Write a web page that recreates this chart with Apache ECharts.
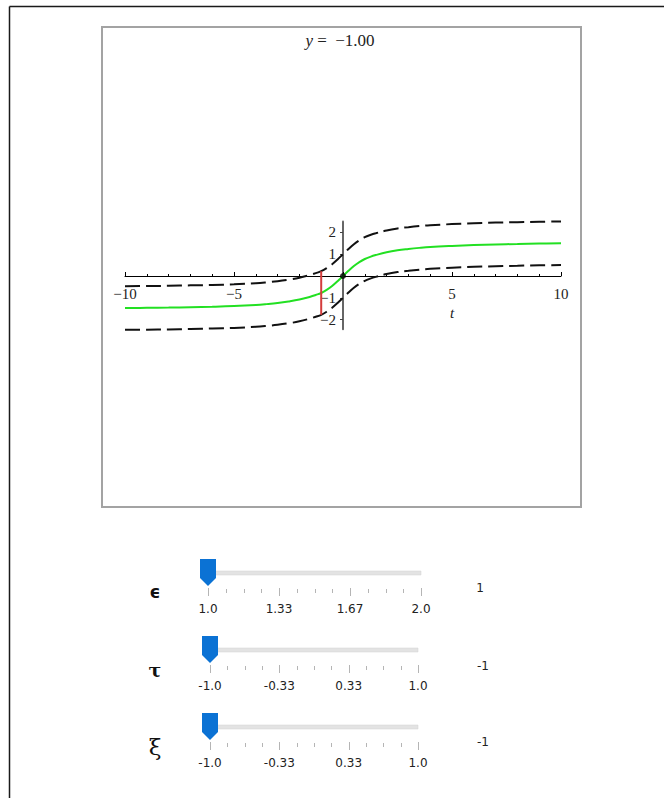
<!DOCTYPE html>
<html>
<head>
<meta charset="utf-8">
<script src="https://cdn.jsdelivr.net/npm/echarts@6/dist/echarts.min.js"></script>
<style>
  html, body { margin: 0; padding: 0; background: #fff; }
  #chart { width: 664px; height: 798px; }
</style>
</head>
<body>
<div id="chart"></div>
<script>
// Sample times along the t axis
const tValues = [-10, -9, -8, -7, -6, -5, -4, -3.5, -3, -2.5, -2, -1.5, -1.25, -1, -0.75, -0.5, -0.25,
  0, 0.25, 0.5, 0.75, 1, 1.25, 1.5, 2, 2.5, 3, 3.5, 4, 5, 6, 7, 8, 9, 10];
// Solution curve (green)
const solution = [-1.47, -1.46, -1.45, -1.43, -1.41, -1.38, -1.33, -1.29, -1.24, -1.17, -1.08, -0.95, -0.87, -0.78, -0.64, -0.46, -0.24,
  0, 0.24, 0.46, 0.64, 0.78, 0.88, 0.96, 1.09, 1.18, 1.24, 1.29, 1.33, 1.38, 1.42, 1.45, 1.47, 1.49, 1.50];
// Upper dashed envelope
const upperBound = [-0.47, -0.46, -0.45, -0.43, -0.41, -0.38, -0.33, -0.29, -0.24, -0.17, -0.08, 0.05, 0.13, 0.22, 0.36, 0.54, 0.76,
  1.00, 1.24, 1.46, 1.64, 1.78, 1.88, 1.96, 2.09, 2.18, 2.24, 2.29, 2.33, 2.38, 2.42, 2.45, 2.47, 2.49, 2.50];
// Lower dashed envelope
const lowerBound = [-2.47, -2.46, -2.45, -2.43, -2.41, -2.38, -2.33, -2.29, -2.24, -2.17, -2.08, -1.95, -1.87, -1.78, -1.64, -1.46, -1.24,
  -1.00, -0.76, -0.54, -0.36, -0.22, -0.12, -0.04, 0.09, 0.18, 0.24, 0.29, 0.33, 0.38, 0.42, 0.45, 0.47, 0.49, 0.50];
// Axis tick labels
const xTickValues = [-10, -5, 5, 10];
const yTickValues = [-2, -1, 1, 2];
// Vertical interval marker position and marked point
const markerT = -1;
const pointT = 0;
const titleValue = '−1.00';
// Parameter sliders
const sliderNames = ['ϵ', 'τ', 'ξ'];
const sliderTickLabels = [
  ['1.0', '1.33', '1.67', '2.0'],
  ['-1.0', '-0.33', '0.33', '1.0'],
  ['-1.0', '-0.33', '0.33', '1.0']
];
const sliderValues = ['1', '-1', '-1'];
const sliderPositions = [0, 0, 0];

const serif = 'Liberation Serif';
const sans = 'DejaVu Sans';
const pairs = ys => tValues.map((t, i) => [t, ys[i]]);
const idx = tValues.indexOf(markerT);
const fmtMinus = v => (v < 0 ? '−' + Math.abs(v) : String(v));

const chart = echarts.init(document.getElementById('chart'), null, { renderer: 'svg' });

// Slider widgets drawn as graphic elements
const sliderLayout = [
  { nameX: 155, nameY: 592, nameFont: 'bold 17px DejaVu Sans', thumbTop: 559, trackY: 573, trackStart: 208, trackEnd: 421, tickTop: 588, labelY: 609, valueX: 480, valueY: 588 },
  { nameX: 155, nameY: 670, nameFont: 'bold 19px DejaVu Serif', thumbTop: 636, trackY: 650, trackStart: 210, trackEnd: 418, tickTop: 665, labelY: 686, valueX: 483, valueY: 666 },
  { nameX: 155, nameY: 747, nameFont: '23px DejaVu Serif', thumbTop: 713, trackY: 727, trackStart: 210, trackEnd: 418, tickTop: 742, labelY: 763, valueX: 483, valueY: 742 }
];

const graphics = [];
// page border
graphics.push({ type: 'line', shape: { x1: 9.5, y1: 6.5, x2: 664, y2: 6.5 }, style: { stroke: '#1a1a1a', lineWidth: 1.5 } });
graphics.push({ type: 'line', shape: { x1: 9.5, y1: 6.5, x2: 9.5, y2: 798 }, style: { stroke: '#1a1a1a', lineWidth: 1.5 } });
// plot frame
graphics.push({ type: 'rect', shape: { x: 102, y: 27, width: 479, height: 480 }, style: { fill: 'none', stroke: '#a3a3a3', lineWidth: 2 } });
// plot title
graphics.push({
  type: 'text', x: 340, y: 40,
  style: {
    text: '{i|y} =  ' + titleValue, align: 'center', verticalAlign: 'middle',
    font: '17px ' + serif, fill: '#222',
    rich: { i: { fontFamily: serif, fontStyle: 'italic', fontSize: 17, fill: '#222' } }
  }
});
// axis name
graphics.push({ type: 'text', x: 452, y: 313, style: { text: 't', align: 'center', verticalAlign: 'middle', font: 'italic 15px ' + serif, fill: '#222' } });

sliderLayout.forEach((s, k) => {
  const labels = sliderTickLabels[k];
  const span = s.trackEnd - s.trackStart;
  const thumbCenter = s.trackStart + sliderPositions[k] * span;
  graphics.push({ type: 'text', x: s.nameX, y: s.nameY, style: { text: sliderNames[k], align: 'center', verticalAlign: 'middle', font: s.nameFont, fill: '#111' } });
  graphics.push({ type: 'rect', shape: { x: s.trackStart, y: s.trackY - 2, width: span, height: 4 }, style: { fill: '#e3e3e3', stroke: '#d0d0d0', lineWidth: 0.5 } });
  const n = (labels.length - 1) * 4;
  for (let j = 0; j <= n; j++) {
    const x = Math.round(s.trackStart + span * j / n) + 0.5;
    const major = j % 4 === 0;
    graphics.push({ type: 'line', shape: { x1: x, y1: s.tickTop + (major ? 0 : 1), x2: x, y2: s.tickTop + (major ? 8 : 5) }, style: { stroke: '#b5b5b5', lineWidth: 1 } });
  }
  labels.forEach((lab, j) => {
    graphics.push({ type: 'text', x: s.trackStart + span * j / (labels.length - 1), y: s.labelY, style: { text: lab, align: 'center', verticalAlign: 'middle', font: '12px ' + sans, fill: '#222' } });
  });
  graphics.push({
    type: 'polygon',
    shape: { points: [[thumbCenter - 8, s.thumbTop], [thumbCenter + 8, s.thumbTop], [thumbCenter + 8, s.thumbTop + 19], [thumbCenter, s.thumbTop + 27], [thumbCenter - 8, s.thumbTop + 19]] },
    style: { fill: '#0b72d4' }
  });
  graphics.push({ type: 'text', x: s.valueX, y: s.valueY, style: { text: sliderValues[k], align: 'center', verticalAlign: 'middle', font: '12px ' + sans, fill: '#222' } });
});

const yMin = -2.44, yMax = 2.5;
const unit = 436 / 20;
const gridLeft = 125, gridWidth = 436;
const gridTop = 276 - yMax * unit, gridHeight = (yMax - yMin) * unit;
// axes placed through the origin by offsetting them from the grid edges
const xAxisOffset = -(-yMin * unit);
const yAxisOffset = -(10 * unit);

chart.setOption({
  animation: false,
  backgroundColor: '#fff',
  grid: { left: gridLeft, width: gridWidth, top: gridTop, height: gridHeight },
  xAxis: {
    type: 'value', min: -10, max: 10, interval: 5,
    position: 'bottom', offset: xAxisOffset,
    axisLine: { onZero: false, lineStyle: { color: '#000', width: 1 } },
    axisTick: { show: true, inside: true, length: 4, lineStyle: { color: '#000' } },
    minorTick: { show: true, splitNumber: 5, length: 2, lineStyle: { color: '#000' } },
    splitLine: { show: false },
    axisLabel: {
      customValues: xTickValues, formatter: fmtMinus, margin: 10,
      fontFamily: serif, fontSize: 15, color: '#222'
    }
  },
  yAxis: {
    type: 'value', min: yMin, max: yMax,
    position: 'left', offset: yAxisOffset,
    axisLine: { onZero: false, lineStyle: { color: '#666', width: 2 } },
    axisTick: { show: true, customValues: yTickValues, inside: false, length: 3, lineStyle: { color: '#444' } },
    splitLine: { show: false },
    axisLabel: {
      customValues: yTickValues, formatter: fmtMinus, margin: 7,
      fontFamily: serif, fontSize: 15, color: '#222'
    }
  },
  series: [
    {
      type: 'line', data: pairs(upperBound), smooth: 0.4, showSymbol: false, clip: false, z: 3,
      lineStyle: { color: '#111', width: 2, type: [15, 6] }
    },
    {
      type: 'line', data: pairs(lowerBound), smooth: 0.4, showSymbol: false, clip: false, z: 3,
      lineStyle: { color: '#111', width: 2, type: [15, 6] }
    },
    {
      type: 'line', data: pairs(solution), smooth: 0.4, showSymbol: false, clip: false, z: 4,
      lineStyle: { color: '#22e022', width: 2 }
    },
    {
      type: 'line', data: [[markerT, upperBound[idx]], [markerT, lowerBound[idx]]], showSymbol: false, clip: false, z: 5,
      lineStyle: { color: '#d43c3c', width: 2 }
    },
    {
      type: 'scatter', data: [[pointT, solution[tValues.indexOf(pointT)]]], symbolSize: 6, z: 6,
      itemStyle: { color: '#000' }
    }
  ],
  graphic: graphics
});
</script>
</body>
</html>
